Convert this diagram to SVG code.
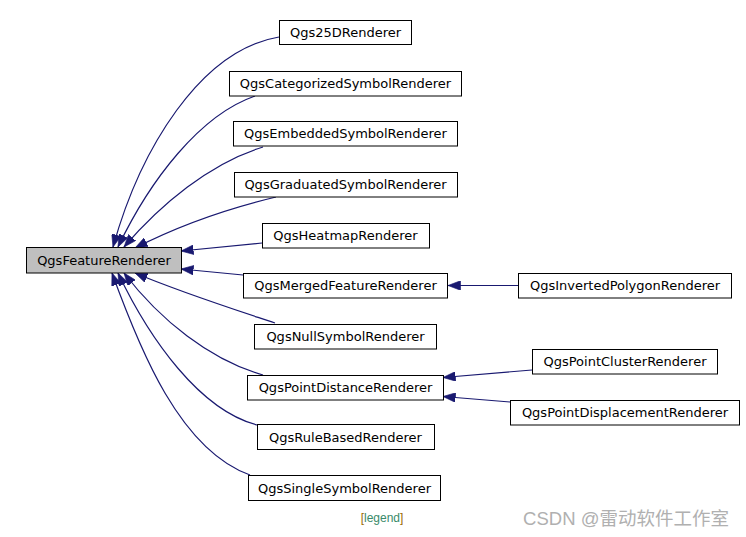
<svg xmlns="http://www.w3.org/2000/svg" width="746" height="537" viewBox="0 0 746 537">
<defs>
<style>
.box{fill:#ffffff;stroke:#000000;stroke-width:1}
.root{fill:#bfbfbf;stroke:#000000;stroke-width:1}
.lbl{font-family:"DejaVu Sans",sans-serif;font-size:13px;fill:#000000;text-anchor:middle}
.edge{fill:none;stroke:#191970;stroke-width:1.2}
</style>
<marker id="arr" viewBox="0 0 10 7.6" refX="10" refY="3.8" markerUnits="userSpaceOnUse" markerWidth="12.5" markerHeight="9.5" orient="auto">
<path d="M0,0 L10,3.8 L0,7.6 z" fill="#191970" stroke="#191970" stroke-width="0.5"/>
</marker>
</defs>
<rect width="746" height="537" fill="#ffffff"/>
<g id="connectors">
<path class="edge" marker-end="url(#arr)" d="M279,37 C200,50 140,150 113,247"/>
<path class="edge" marker-end="url(#arr)" d="M255,96 C200,115 150,180 118,247"/>
<path class="edge" marker-end="url(#arr)" d="M263,147 C210,163 160,205 124,247"/>
<path class="edge" marker-end="url(#arr)" d="M276,197 C230,208 180,225 135,248"/>
<path class="edge" marker-end="url(#arr)" d="M262,243 L181,251"/>
<path class="edge" marker-end="url(#arr)" d="M243,275 L181,269"/>
<path class="edge" marker-end="url(#arr)" d="M275,323 C230,308 180,292 135,273"/>
<path class="edge" marker-end="url(#arr)" d="M263,375 C210,360 160,320 124,273"/>
<path class="edge" marker-end="url(#arr)" d="M257,425 C200,410 150,340 118,273"/>
<path class="edge" marker-end="url(#arr)" d="M250,475 C180,450 140,350 112,273"/>
<path class="edge" marker-end="url(#arr)" d="M518,285.5 L448,285.5"/>
<path class="edge" marker-end="url(#arr)" d="M532,370 L443,377.5"/>
<path class="edge" marker-end="url(#arr)" d="M510,402 L443,396.5"/>
</g>
<g id="n_feature"><rect class="root" x="26.5" y="247.5" width="155" height="25.5"/><text class="lbl" x="104" y="265">QgsFeatureRenderer</text></g>
<g id="n_25d"><rect class="box" x="279.5" y="20.5" width="132" height="24"/><text class="lbl" x="345.5" y="37">Qgs25DRenderer</text></g>
<g id="n_cat"><rect class="box" x="229.5" y="71.5" width="232" height="24.5"/><text class="lbl" x="345.5" y="88">QgsCategorizedSymbolRenderer</text></g>
<g id="n_emb"><rect class="box" x="233.5" y="121.5" width="224" height="24.5"/><text class="lbl" x="345.5" y="138">QgsEmbeddedSymbolRenderer</text></g>
<g id="n_grad"><rect class="box" x="234.5" y="172.5" width="223" height="24.5"/><text class="lbl" x="345.5" y="189">QgsGraduatedSymbolRenderer</text></g>
<g id="n_heat"><rect class="box" x="262.5" y="223.5" width="167" height="24.5"/><text class="lbl" x="345.5" y="240">QgsHeatmapRenderer</text></g>
<g id="n_merged"><rect class="box" x="243.5" y="273.5" width="204" height="24.5"/><text class="lbl" x="345.5" y="290">QgsMergedFeatureRenderer</text></g>
<g id="n_null"><rect class="box" x="254.5" y="324.5" width="182" height="24.5"/><text class="lbl" x="345.5" y="341">QgsNullSymbolRenderer</text></g>
<g id="n_pdist"><rect class="box" x="247.5" y="375.5" width="196" height="24.5"/><text class="lbl" x="345.5" y="392">QgsPointDistanceRenderer</text></g>
<g id="n_rule"><rect class="box" x="257.5" y="424.5" width="177" height="25"/><text class="lbl" x="345.5" y="441.5">QgsRuleBasedRenderer</text></g>
<g id="n_single"><rect class="box" x="248.5" y="475.5" width="192" height="25"/><text class="lbl" x="344.5" y="492.5">QgsSingleSymbolRenderer</text></g>
<g id="n_inv"><rect class="box" x="518.5" y="273.5" width="213" height="24.5"/><text class="lbl" x="625" y="290">QgsInvertedPolygonRenderer</text></g>
<g id="n_cluster"><rect class="box" x="532.5" y="349.5" width="185" height="24.5"/><text class="lbl" x="625" y="366">QgsPointClusterRenderer</text></g>
<g id="n_disp"><rect class="box" x="510.5" y="400.5" width="229" height="24.5"/><text class="lbl" x="625" y="417">QgsPointDisplacementRenderer</text></g>
<text x="382" y="522" font-family="Liberation Sans, Arial, sans-serif" font-size="12" text-anchor="middle"><tspan fill="#9a6a00">[</tspan><tspan fill="#3a8a6a">legend</tspan><tspan fill="#9a6a00">]</tspan></text>
<text x="626" y="525" font-family="Liberation Sans, 'Noto Sans CJK SC', sans-serif" font-size="18.5" fill="#b0b0b0" text-anchor="middle">CSDN @雷动软件工作室</text>
</svg>
